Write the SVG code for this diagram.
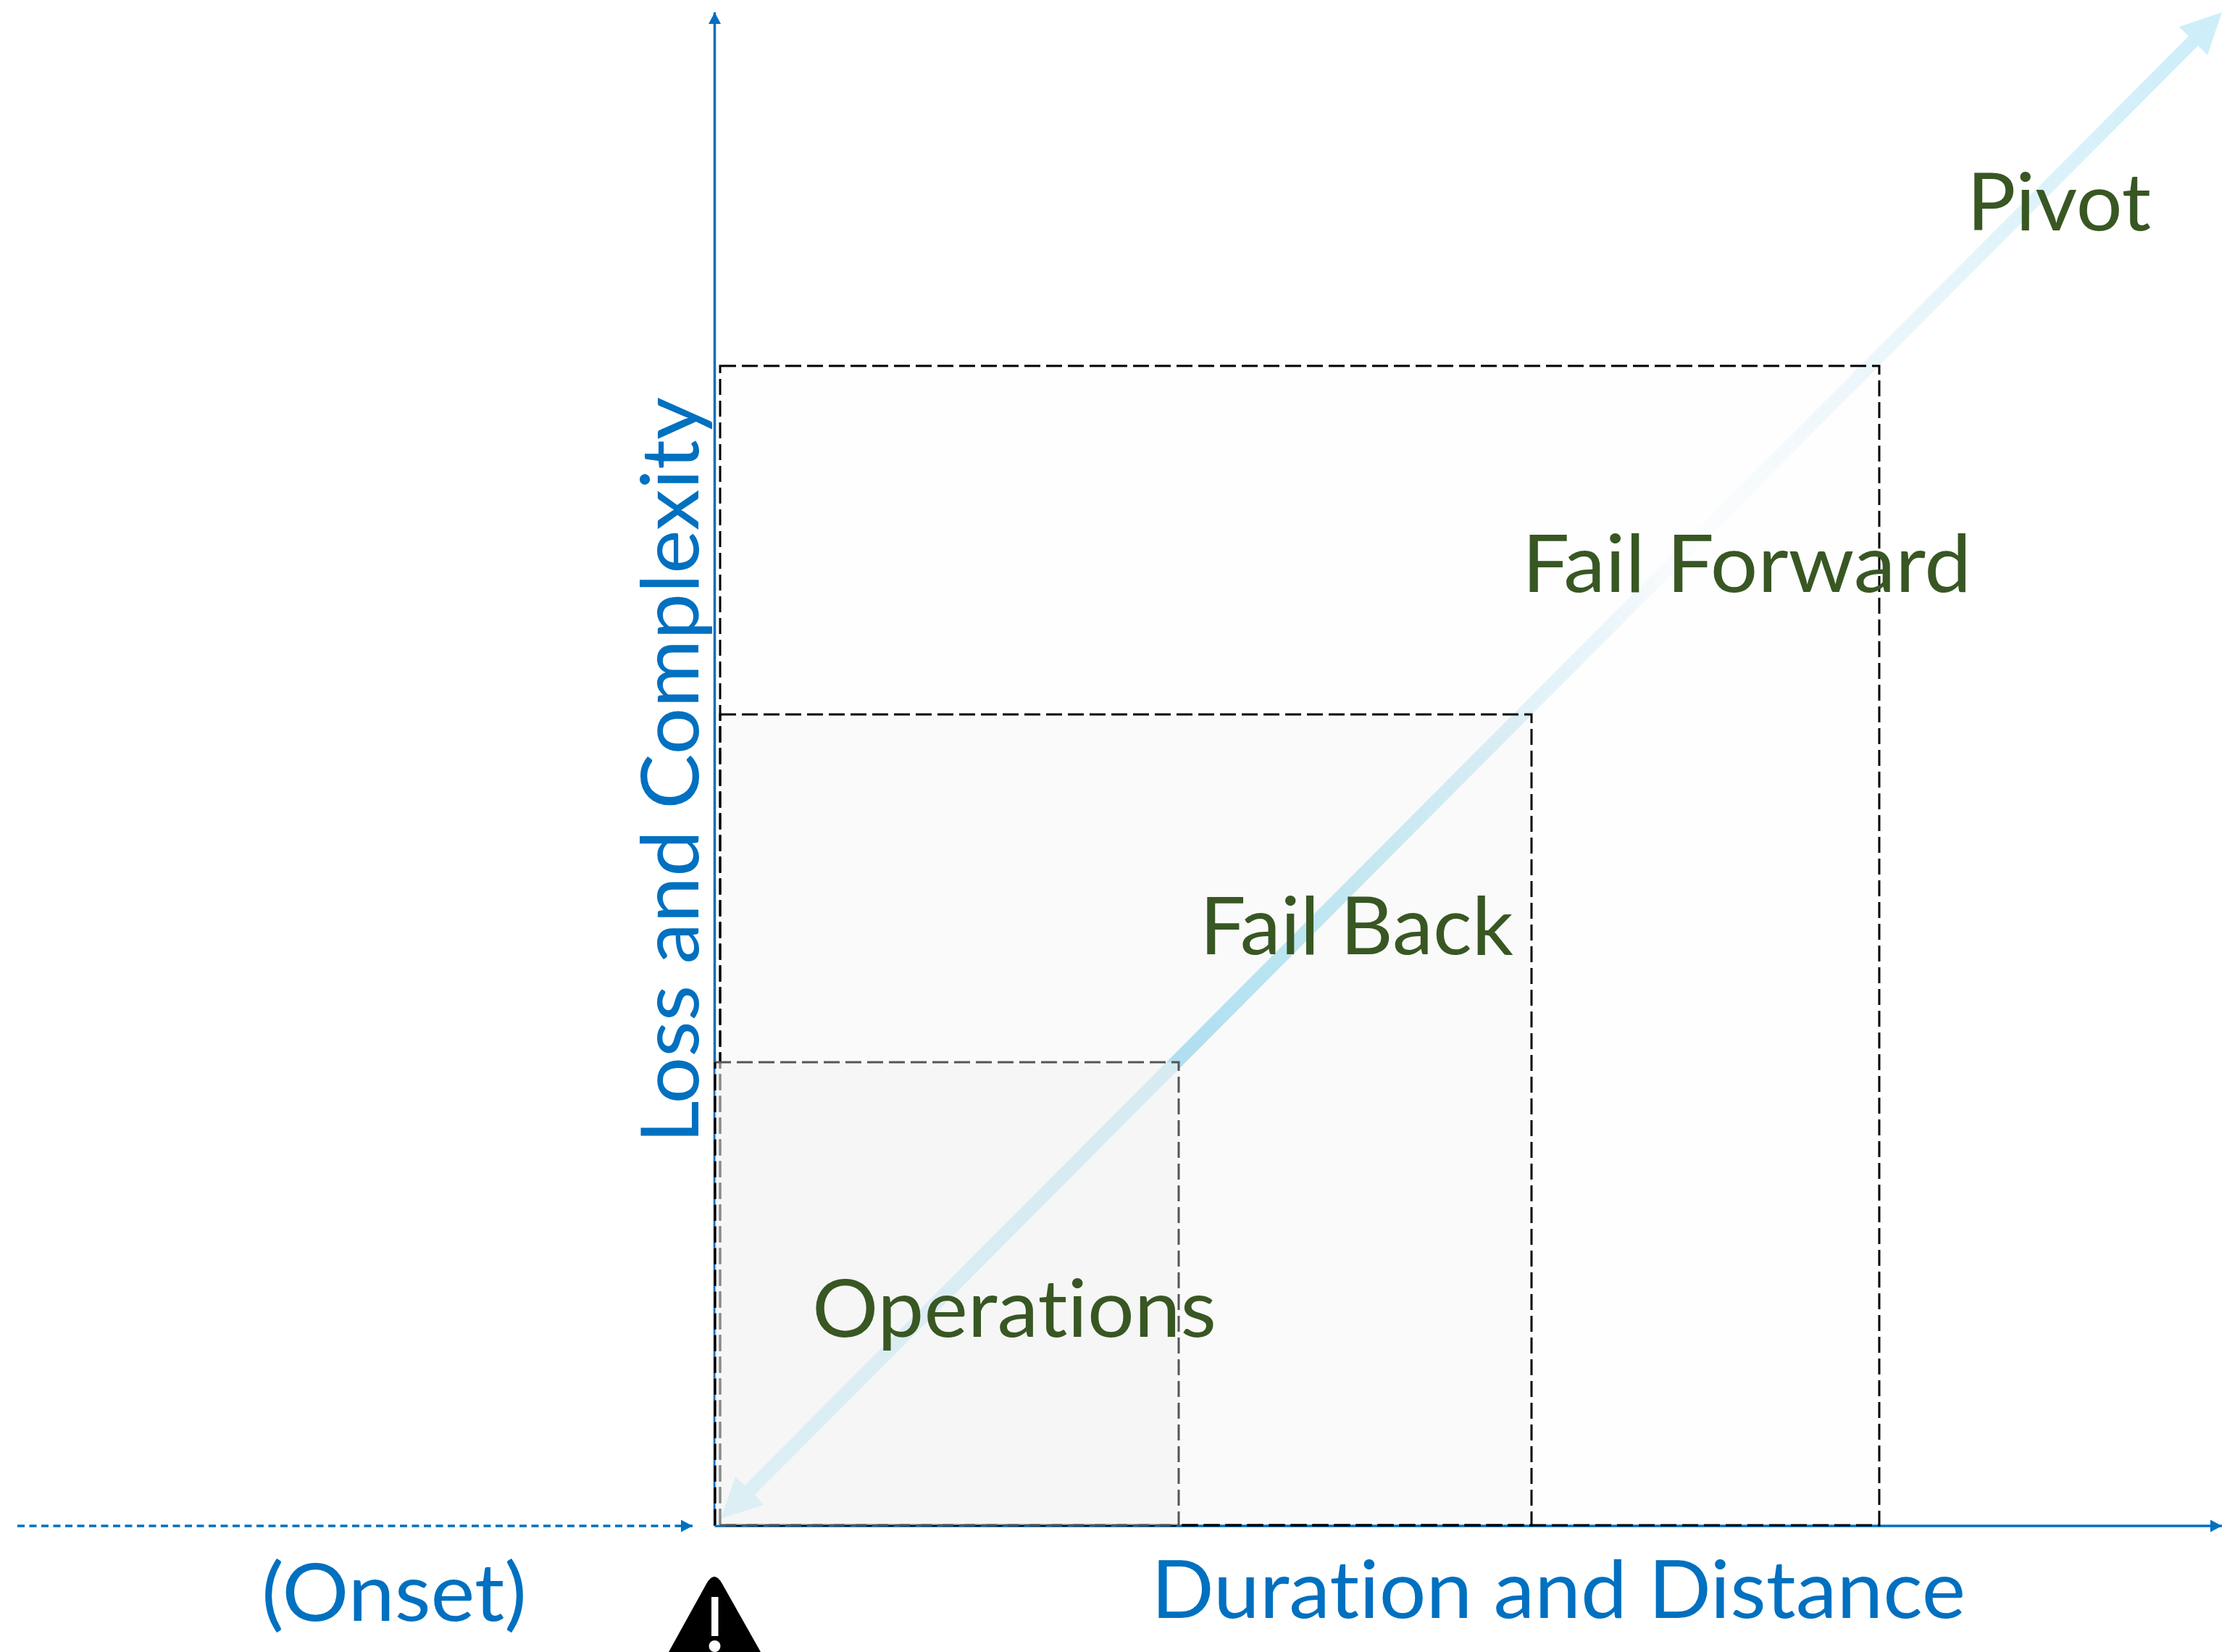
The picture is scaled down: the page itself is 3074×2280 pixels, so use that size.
<svg xmlns="http://www.w3.org/2000/svg" width="3074" height="2280" viewBox="0 0 3074 2280">
<style>
.axis{fill:none;stroke:#0070C0;stroke-width:3.5}
.box{stroke-width:3;stroke-dasharray:22 8}
.lbl{font-family:"Lato","Carlito","Liberation Sans",sans-serif;font-size:111px;font-variant-ligatures:none}
.green{fill:#385723}
.blue{fill:#0070C0}
</style>
<defs>
<linearGradient id="diag" gradientUnits="userSpaceOnUse" x1="995" y1="2096" x2="3067" y2="17">
<stop offset="0" stop-color="#C5EFFB"/>
<stop offset="0.305" stop-color="#B4E4F6"/>
<stop offset="0.374" stop-color="#BFE9F6"/>
<stop offset="0.437" stop-color="#CBEDF6"/>
<stop offset="0.54" stop-color="#E3F3FA"/>
<stop offset="0.586" stop-color="#EAF6FB"/>
<stop offset="0.617" stop-color="#F5FAFD"/>
<stop offset="0.65" stop-color="#FCFEFF"/>
<stop offset="0.745" stop-color="#F0F8FC"/>
<stop offset="0.785" stop-color="#E9F6FB"/>
<stop offset="0.82" stop-color="#E6F5FB"/>
<stop offset="0.968" stop-color="#CFEEF9"/>
<stop offset="1" stop-color="#CDEEF9"/>
</linearGradient>
<marker id="head" markerUnits="userSpaceOnUse" markerWidth="16" markerHeight="17" refX="16" refY="8.5" orient="auto">
<path d="M0 0L16 8.500L0 17Z" fill="#0070C0"/>
</marker>
</defs>
<g id="connectors">
<line class="axis" x1="986.500" y1="2106" x2="986.500" y2="17" marker-end="url(#head)"/>
<line class="axis" x1="986.500" y1="2106" x2="3067" y2="2106" marker-end="url(#head)"/>
<line class="axis" x1="24" y1="2106" x2="956" y2="2106" stroke-width="3" stroke-dasharray="10 6.500" marker-end="url(#head)"/>
<polygon id="diagonal" fill="url(#diag)" points="995,2096 1015,2038 1028,2050 3021,50 3008,37 3067,17 3047,76 3034,63 1042,2063 1054,2077"/>
</g>
<g id="node-fail-forward">
<rect class="box" x="994" y="505" width="1600" height="1600" fill="#000" fill-opacity="0.004" stroke="#000"/>
<text class="lbl green" x="2101" y="817" textLength="620" lengthAdjust="spacingAndGlyphs">Fail Forward</text>
</g>
<g id="node-fail-back">
<rect class="box" x="994" y="986" width="1120" height="1119" fill="#000" fill-opacity="0.016" stroke="#000"/>
<text class="lbl green" x="1656" y="1317" textLength="433" lengthAdjust="spacingAndGlyphs">Fail Back</text>
</g>
<g id="node-operations">
<rect class="box" x="987" y="1466" width="640" height="639" fill="#F2F2F2" fill-opacity="0.57" stroke="#555"/>
<line class="box" x1="987" y1="2105" x2="987" y2="1466" stroke="#000"/>
<text class="lbl green" x="1121" y="1845" textLength="558" lengthAdjust="spacingAndGlyphs">Operations</text>
</g>
<g id="node-pivot">
<text class="lbl green" x="2715" y="318" textLength="254" lengthAdjust="spacingAndGlyphs">Pivot</text>
</g>
<g id="node-y-label">
<text class="lbl blue" transform="translate(964,1578) rotate(-90)" textLength="1030" lengthAdjust="spacingAndGlyphs">Loss and Complexity</text>
</g>
<g id="node-x-label">
<text class="lbl blue" x="1589" y="2233" textLength="1124" lengthAdjust="spacingAndGlyphs">Duration and Distance</text>
</g>
<g id="node-onset">
<text class="lbl blue" x="361" y="2237" textLength="366" lengthAdjust="spacingAndGlyphs">(Onset)</text>
</g>
<g id="node-warning">
<path d="M923 2280L975 2186Q986 2166 997 2186L1050 2280Z" fill="#000"/>
<rect x="982" y="2204" width="9.500" height="54" fill="#fff"/>
<circle cx="986.500" cy="2272" r="8" fill="#fff"/>
</g>
</svg>
